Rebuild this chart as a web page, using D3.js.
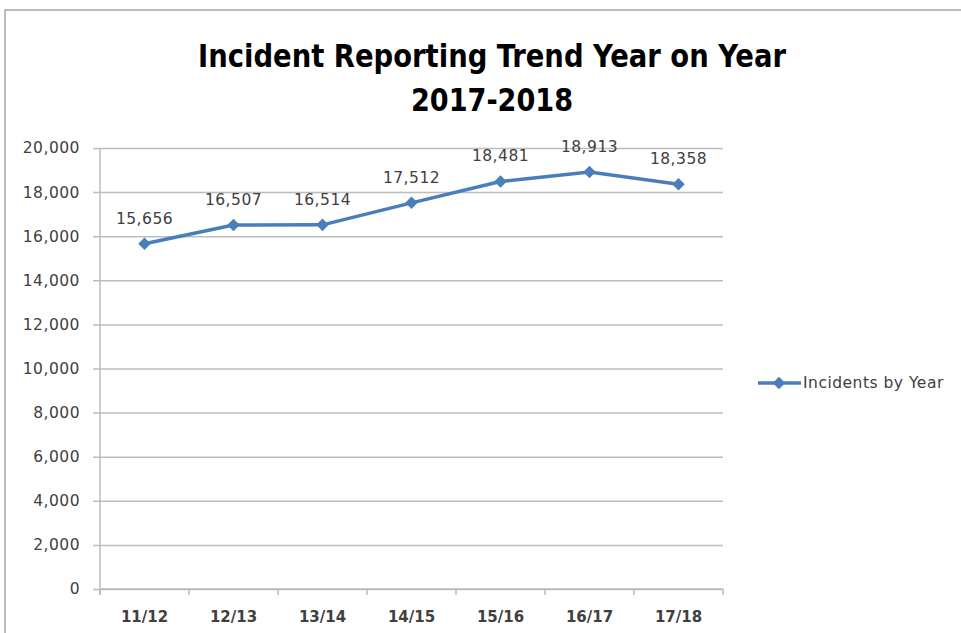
<!DOCTYPE html>
<html><head><meta charset="utf-8">
<script src="https://cdn.jsdelivr.net/npm/d3@7"></script>
<style>body{margin:0;background:#fff}svg{display:block}</style>
</head><body>
<script>
const categories = ["11/12","12/13","13/14","14/15","15/16","16/17","17/18"];
const values = [15656,16507,16514,17512,18481,18913,18358];
const yTicks = [0,2000,4000,6000,8000,10000,12000,14000,16000,18000,20000];
const seriesName = "Incidents by Year";
const titleLines = ["Incident Reporting Trend Year on Year","2017-2018"];

(function(){
const W=961,H=633;
const svg=d3.select("body").append("svg").attr("width",W).attr("height",H);
svg.append("rect").attr("x",5).attr("y",10).attr("width",W+10).attr("height",H+10)
  .attr("fill","#fff").attr("stroke","#a6a6a6").attr("stroke-width",1.5);

const pL=100,pR=723,pT=148,pB=589;
const x=d3.scaleBand().domain(categories).range([pL,pR]);
const y=d3.scaleLinear().domain([0,20000]).range([pB,pT]);
const blue="#4a7ebb";
const font="'DejaVu Sans',sans-serif";
const fs=15.5, ls=0.5, txt="#404040";

// title
const tfont="'DejaVu Sans Condensed','DejaVu Sans',sans-serif";
svg.append("text").attr("x",492).attr("y",67).attr("text-anchor","middle")
  .attr("font-family",tfont).attr("font-weight",700).attr("font-size",31.5)
  .attr("textLength",588).attr("lengthAdjust","spacingAndGlyphs").attr("fill","#000").text(titleLines[0]);
svg.append("text").attr("x",492).attr("y",111).attr("text-anchor","middle")
  .attr("font-family",tfont).attr("font-weight",700).attr("font-size",31.5)
  .attr("textLength",162).attr("lengthAdjust","spacingAndGlyphs").attr("fill","#000").text(titleLines[1]);

// gridlines
const yAxis=d3.axisLeft(y).tickValues(yTicks).tickSize(-(pR-pL)).tickFormat(d3.format(","));
const gy=svg.append("g").attr("transform",`translate(${pL},0)`).call(yAxis);
gy.select(".domain").remove();
gy.selectAll(".tick line").attr("stroke","#bdbdbd").attr("stroke-width",1.5).attr("x1",-7);
gy.selectAll(".tick text").attr("x",-20).attr("font-family",font).attr("letter-spacing",ls)
  .attr("font-size",fs).attr("fill",txt);

// y axis line
svg.append("line").attr("x1",pL).attr("x2",pL).attr("y1",pT).attr("y2",pB+6)
  .attr("stroke","#bdbdbd").attr("stroke-width",1.5);

// x axis
const gx=svg.append("g").attr("transform",`translate(0,${pB})`);
gx.append("line").attr("x1",pL).attr("x2",pR).attr("stroke","#bdbdbd").attr("stroke-width",1.5);
const bounds=categories.map(c=>x(c)).concat([pR]);
gx.selectAll("line.tk").data(bounds).join("line").attr("class","tk")
  .attr("x1",d=>d).attr("x2",d=>d).attr("y1",0).attr("y2",6).attr("stroke","#bdbdbd").attr("stroke-width",1.5);
gx.selectAll("text").data(categories).join("text")
  .attr("x",d=>x(d)+x.bandwidth()/2).attr("y",33).attr("text-anchor","middle")
  .attr("font-family",font).attr("font-weight",700).attr("font-size",15).attr("fill",txt).text(d=>d);

// line
const line=d3.line().x((d,i)=>x(categories[i])+x.bandwidth()/2).y(d=>y(d));
svg.append("path").datum(values).attr("d",line).attr("fill","none").attr("stroke",blue).attr("stroke-width",3.5).attr("stroke-linejoin","round");
const diamond=d3.symbol().type(d3.symbolDiamond2).size(100);
svg.selectAll("path.pt").data(values).join("path").attr("class","pt").attr("d",diamond)
  .attr("transform",(d,i)=>`translate(${x(categories[i])+x.bandwidth()/2},${y(d)})`).attr("fill",blue);
svg.selectAll("text.lbl").data(values).join("text").attr("class","lbl")
  .attr("x",(d,i)=>x(categories[i])+x.bandwidth()/2).attr("y",d=>y(d)-20).attr("text-anchor","middle")
  .attr("font-family",font).attr("letter-spacing",ls).attr("font-size",fs).attr("fill",txt).text(d3.format(","));

// legend
const ly=383;
svg.append("line").attr("x1",758).attr("x2",801).attr("y1",ly).attr("y2",ly).attr("stroke",blue).attr("stroke-width",3.5);
svg.append("path").attr("d",diamond).attr("transform",`translate(779,${ly})`).attr("fill",blue);
svg.append("text").attr("x",803).attr("y",ly+5).attr("font-family",font).attr("letter-spacing",ls)
  .attr("font-size",fs).attr("fill",txt).text(seriesName);
})();
</script>
</body></html>
